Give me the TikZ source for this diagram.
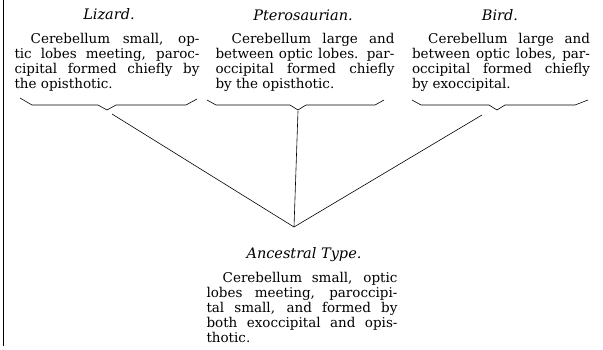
\documentclass[tikz,border=0pt]{standalone}
\usepackage{fontspec}
\setmainfont{DejaVu Serif}
\usetikzlibrary{positioning,calc}

\begin{document}
\begin{tikzpicture}[
  x=1pt, y=1pt,
  title/.style={font=\fontsize{14.5}{15}\selectfont\itshape, inner sep=0pt},
  desc/.style={font=\fontsize{13.5}{15}\selectfont, align=justify, inner sep=0pt},
  brace/.style={line width=0.6pt, line join=round},
  link/.style={line width=0.6pt}
]
\useasboundingbox (0,0) rectangle (603,-350);

% page rule on the left
\draw[line width=0.7pt] (3,0) -- (3,-346);

% Titles
\node[title] (lizard) at (109,-14) {Lizard.};
\node[title] (ptero) at (303,-15) {Pterosaurian.};
\node[title] (bird) at (500,-15) {Bird.};

% Descriptions
\node[desc, text width=185pt, anchor=north] (lizardtxt) at (107,-33) {\hspace*{1.2em}Cerebellum small, op-\linebreak tic lobes meeting, paroc-\linebreak cipital formed chiefly by\linebreak the opisthotic.};
\node[desc, text width=179pt, anchor=north] (pterotxt) at (305,-33) {\hspace*{1.2em}Cerebellum large and\linebreak between optic lobes. par-\linebreak occipital formed chiefly\linebreak by the opisthotic.};
\node[desc, text width=178pt, anchor=north] (birdtxt) at (501,-33) {\hspace*{1.2em}Cerebellum large and\linebreak between optic lobes, par-\linebreak occipital formed chiefly\linebreak by exoccipital.};

% Braces
\draw[brace] (20,-98) -- (32,-105) -- (98,-105) -- (107,-110) -- (116,-105) -- (186,-105) -- (197,-99);
\draw[brace] (207,-100) -- (216,-105) -- (290,-105) -- (298,-110) -- (306,-105) -- (375,-105) -- (384,-100);
\draw[brace] (412,-100) -- (421,-105) -- (489,-105) -- (497,-110) -- (505,-105) -- (575,-105) -- (588,-100);

\coordinate (lizardroot) at (112,-114);
\coordinate (pteroroot) at (298,-111);
\coordinate (birdroot) at (482,-115);
\coordinate (apex) at (294,-227);

% Ancestral type
\node[title] (ancestral) at (304,-255) {Ancestral Type.};
\node[desc, text width=191pt, anchor=north] (ancestraltxt) at (302,-272) {\hspace*{1.2em}Cerebellum small, optic\linebreak lobes meeting, paroccipi-\linebreak tal small, and formed by\linebreak both exoccipital and opis-\linebreak thotic.};

\draw[link] (lizardroot) -- (apex);
\draw[link] (pteroroot) -- (apex);
\draw[link] (birdroot) -- (apex);

\end{tikzpicture}
\end{document}
